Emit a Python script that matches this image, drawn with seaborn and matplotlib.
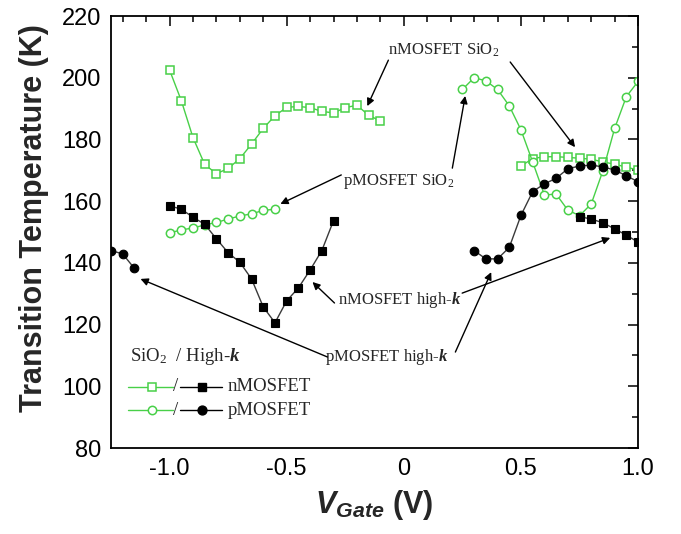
import matplotlib
matplotlib.use("Agg")
import matplotlib.pyplot as plt
import numpy as np
import pandas as pd
import seaborn as sns
from matplotlib.ticker import MultipleLocator, FixedLocator

# ---------------------------------------------------------------------------
# Transition temperature (K) versus gate voltage (V)
# ---------------------------------------------------------------------------
# nMOSFET, SiO2 gate dielectric
vg_n_sio2_a = [-1.0, -0.95, -0.9, -0.85, -0.8, -0.75, -0.7, -0.65, -0.6, -0.55,
               -0.5, -0.45, -0.4, -0.35, -0.3, -0.25, -0.2, -0.15, -0.1]
t_n_sio2_a = [202.5, 192.6, 180.6, 171.9, 168.9, 170.6, 173.8, 178.5, 183.6, 187.7,
              190.4, 190.7, 190.3, 189.1, 188.6, 190.3, 191.1, 187.8, 186.0]
vg_n_sio2_b = [0.5, 0.55, 0.6, 0.65, 0.7, 0.75, 0.8, 0.85, 0.9, 0.95, 1.0]
t_n_sio2_b = [171.4, 173.8, 174.4, 174.4, 174.2, 173.9, 173.6, 172.7, 172.0, 171.0, 170.1]

# pMOSFET, SiO2 gate dielectric
vg_p_sio2_a = [-1.0, -0.95, -0.9, -0.85, -0.8, -0.75, -0.7, -0.65, -0.6, -0.55]
t_p_sio2_a = [149.7, 150.7, 151.3, 152.3, 153.1, 154.2, 155.2, 155.9, 157.0, 157.4]
vg_p_sio2_b = [0.25, 0.3, 0.35, 0.4, 0.45, 0.5, 0.55, 0.6, 0.65, 0.7,
               0.75, 0.8, 0.85, 0.9, 0.95, 1.0]
t_p_sio2_b = [196.2, 200.0, 199.0, 196.2, 190.9, 183.1, 172.7, 162.0, 162.3, 157.1,
              155.3, 159.1, 169.9, 183.6, 193.9, 198.8]

# nMOSFET, high-k gate dielectric
vg_n_hk_a = [-1.0, -0.95, -0.9, -0.85, -0.8, -0.75, -0.7, -0.65, -0.6, -0.55,
             -0.5, -0.45, -0.4, -0.35, -0.3]
t_n_hk_a = [158.5, 157.4, 154.8, 152.5, 147.8, 143.3, 140.2, 134.8, 125.7, 120.6,
            127.7, 131.9, 137.7, 144.0, 153.7]
vg_n_hk_b = [0.75, 0.8, 0.85, 0.9, 0.95, 1.0]
t_n_hk_b = [155.0, 154.2, 153.0, 151.0, 149.0, 146.7]

# pMOSFET, high-k gate dielectric
vg_p_hk_a = [-1.25, -1.2, -1.15]
t_p_hk_a = [144.0, 142.9, 138.2]
vg_p_hk_b = [0.3, 0.35, 0.4, 0.45, 0.5, 0.55, 0.6, 0.65, 0.7, 0.75,
             0.8, 0.85, 0.9, 0.95, 1.0]
t_p_hk_b = [144.0, 141.3, 141.3, 145.0, 155.4, 163.1, 165.6, 167.4, 170.5, 171.4,
            171.7, 171.1, 170.1, 168.2, 166.3]

x_ticks = [-1.0, -0.5, 0.0, 0.5, 1.0]
x_tick_labels = ["-1.0", "-0.5", "0", "0.5", "1.0"]
y_ticks = [80, 100, 120, 140, 160, 180, 200, 220]

segments = [
    ("nMOSFET", "SiO2", "a", vg_n_sio2_a, t_n_sio2_a),
    ("nMOSFET", "SiO2", "b", vg_n_sio2_b, t_n_sio2_b),
    ("pMOSFET", "SiO2", "a", vg_p_sio2_a, t_p_sio2_a),
    ("pMOSFET", "SiO2", "b", vg_p_sio2_b, t_p_sio2_b),
    ("nMOSFET", "high-k", "a", vg_n_hk_a, t_n_hk_a),
    ("nMOSFET", "high-k", "b", vg_n_hk_b, t_n_hk_b),
    ("pMOSFET", "high-k", "a", vg_p_hk_a, t_p_hk_a),
    ("pMOSFET", "high-k", "b", vg_p_hk_b, t_p_hk_b),
]
df = pd.concat(
    [pd.DataFrame({"device": d, "dielectric": k, "segment": s, "vg": x, "T": y})
     for d, k, s, x, y in segments],
    ignore_index=True,
)

# ---------------------------------------------------------------------------
sns.set_style("white")
plt.rcParams["font.family"] = ["Liberation Sans", "DejaVu Sans"]
plt.rcParams["axes.unicode_minus"] = False
plt.rcParams["mathtext.fontset"] = "custom"
plt.rcParams["mathtext.rm"] = "Liberation Serif"
plt.rcParams["mathtext.it"] = "Liberation Serif:italic"
plt.rcParams["mathtext.bf"] = "Liberation Serif:italic:bold"
plt.rcParams["mathtext.bfit"] = "Liberation Sans:italic:bold"

GREEN = "#48d048"
LINE_BLACK = "#3a3a3a"

fig = plt.figure(figsize=(6.81, 5.34), dpi=100)
ax = fig.add_axes([0.163, 0.161, 0.774, 0.809])

style = {
    ("nMOSFET", "SiO2"): dict(marker="s", markersize=5.2, markerfacecolor="white",
                              markeredgecolor=GREEN, color=GREEN, markeredgewidth=1.1),
    ("pMOSFET", "SiO2"): dict(marker="o", markersize=6.0, markerfacecolor="white",
                              markeredgecolor=GREEN, color=GREEN, markeredgewidth=1.1),
    ("nMOSFET", "high-k"): dict(marker="s", markersize=5.6, markerfacecolor="black",
                                markeredgecolor="black", color=LINE_BLACK, markeredgewidth=0.8),
    ("pMOSFET", "high-k"): dict(marker="o", markersize=6.2, markerfacecolor="black",
                                markeredgecolor="black", color=LINE_BLACK, markeredgewidth=0.8),
}

for (dev, diel, seg), g in df.groupby(["device", "dielectric", "segment"], sort=False):
    sns.lineplot(data=g, x="vg", y="T", ax=ax, estimator=None, sort=False,
                 linewidth=1.0, legend=False, **style[(dev, diel)])

ax.set_xlim(-1.25, 1.0)
ax.set_ylim(80, 220)
ax.xaxis.set_major_locator(FixedLocator(x_ticks))
ax.set_xticklabels(x_tick_labels)
ax.xaxis.set_minor_locator(MultipleLocator(0.1))
ax.yaxis.set_major_locator(FixedLocator(y_ticks))
ax.yaxis.set_minor_locator(MultipleLocator(10))
ax.tick_params(which="both", direction="in", top=True, right=True, width=1.1,
               labelsize=17, colors="black", pad=7)
ax.tick_params(which="major", length=7)
ax.tick_params(which="minor", length=4)
for sp in ax.spines.values():
    sp.set_linewidth(1.3)
    sp.set_color("black")

ax.set_ylabel("Transition Temperature (K)", fontsize=22, fontweight="bold")
ax.yaxis.set_label_coords(-0.118, 0.532)
ax.set_xlabel(r"$\mathbfit{V}_{\mathbfit{Gate}}$ (V)", fontsize=22, fontweight="bold",
              labelpad=6)

# --- callouts -------------------------------------------------------------
serif = ["Liberation Serif", "DejaVu Serif"]
arrow_kw = dict(arrowstyle="-|>", color="black", lw=1.0, mutation_scale=11,
                shrinkA=0, shrinkB=0)

callouts = [
    (r"nMOSFET SiO$_\mathrm{2}$", (0.168, 209.0),
     [((-0.066, 205.7), (-0.156, 190.8)), ((0.454, 205.1), (0.731, 177.5))]),
    (r"pMOSFET SiO$_\mathrm{2}$", (-0.023, 166.5),
     [((-0.267, 168.5), (-0.527, 159.1)), ((0.207, 170.7), (0.262, 194.1))]),
    (r"nMOSFET high-$\mathbf{k}$", (-0.019, 128.0),
     [((-0.296, 127.0), (-0.390, 133.8)), ((0.249, 130.2), (0.881, 148.1))]),
    (r"pMOSFET high-$\mathbf{k}$", (-0.075, 109.6),
     [((-0.326, 109.5), (-1.124, 134.8)), ((0.220, 111.1), (0.373, 137.0))]),
]
for label, pos, arrows in callouts:
    ax.text(pos[0], pos[1], label, family=serif, fontsize=12, ha="center",
            va="center")
    for tail, head in arrows:
        ax.annotate("", xy=head, xytext=tail, arrowprops=arrow_kw)

# --- key ------------------------------------------------------------------
tr = ax.transAxes
ax.text(0.036, 0.211, r"SiO$_\mathrm{2}$  / High-$\mathbf{k}$", transform=tr,
        family=serif, fontsize=13.5, ha="left", va="center")
for yk, mk, ms, label in [(0.142, "s", 5.2, "nMOSFET"), (0.088, "o", 6.0, "pMOSFET")]:
    ax.plot([0.032, 0.118], [yk, yk], transform=tr, color=GREEN, lw=1.0,
            clip_on=False)
    ax.plot([0.077], [yk], transform=tr, marker=mk, ms=ms, mfc="white",
            mec=GREEN, mew=1.1, clip_on=False)
    ax.text(0.123, yk, "/", transform=tr, family=serif, fontsize=13.5,
            ha="center", va="center")
    ax.plot([0.131, 0.210], [yk, yk], transform=tr, color="black", lw=1.0,
            clip_on=False)
    ax.plot([0.172], [yk], transform=tr, marker=mk, ms=ms + 0.4, mfc="black",
            mec="black", clip_on=False)
    ax.text(0.222, yk, label, transform=tr, family=serif, fontsize=13.5,
            ha="left", va="center")

fig.savefig("out.png", dpi=100, facecolor="white")
